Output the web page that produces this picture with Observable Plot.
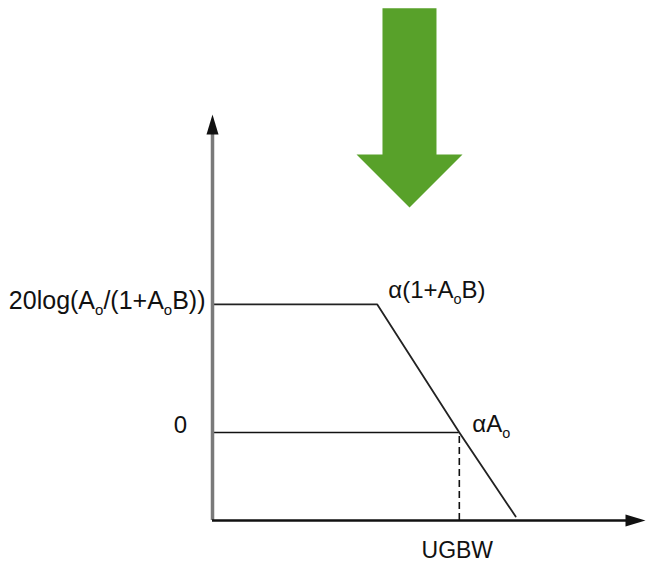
<!DOCTYPE html>
<html>
<head>
<meta charset="utf-8">
<script src="https://cdn.jsdelivr.net/npm/d3@7"></script>
<script src="https://cdn.jsdelivr.net/npm/@observablehq/plot@0.6"></script>
<style>
  html, body { margin: 0; padding: 0; background: #fff; }
  svg text { font-family: "Liberation Sans", Arial, sans-serif; }
</style>
</head>
<body>
<div id="chart"></div>
<script>
// Closed-loop gain vs. frequency (log-frequency in decades, gain in dB)
const responseDecade = [0, 2.31, 3.46, 4.25];
const responseDb = [40, 40, 0, -26.25];

// Unity-gain reference level and crossover frequency
const zeroDb = 0;
const ugbwDecade = 3.46;
const cornerDecade = 2.31;
const closedLoopDb = 40;

// Axis extents
const axisMinX = 0, axisMaxX = 6;
const axisMinDb = -27.5, axisMaxDb = 98.4;

// Labels
const labelClosedLoop = "20log(Aₒ/(1+AₒB))";
const labelZero = "0";
const labelCorner = "α(1+AₒB)";
const labelUgbw = "αAₒ";
const labelFreq = "UGBW";

// Downward pointer drawn above the plot (outline vertices)
const pointerX = [2.383, 3.140, 3.140, 3.505, 2.762, 2.019, 2.383];
const pointerDb = [132.5, 132.5, 86.875, 86.875, 70.31, 86.875, 86.875];

const response = responseDecade.map((x, i) => ({x, y: responseDb[i]}));
const pointer = pointerX.map((x, i) => ({x, y: pointerDb[i]}));

// Narrow filled arrowhead, pointing up before rotation
const arrowHead = {
  draw(ctx) {
    ctx.moveTo(0, -10);
    ctx.lineTo(6, 10);
    ctx.lineTo(-6, 10);
    ctx.closePath();
  }
};

const fontSize = 24;

const chart = Plot.plot({
  width: 646,
  height: 566,
  margin: 0,
  x: {domain: [axisMinX, axisMaxX], range: [212, 640], axis: null},
  y: {domain: [axisMinDb, axisMaxDb], range: [520, 117], axis: null},
  marks: [
    // pointer
    Plot.line(pointer, {x: "x", y: "y", fill: "#58a12a", stroke: "none"}),
    // 0 dB level
    Plot.ruleY([zeroDb], {x1: axisMinX, x2: ugbwDecade, stroke: "#111", strokeWidth: 1.6}),
    // UGBW drop line
    Plot.ruleX([ugbwDecade], {y1: axisMinDb, y2: zeroDb, stroke: "#111", strokeWidth: 1.6, strokeDasharray: "7,4"}),
    // gain curve
    Plot.line(response, {x: "x", y: "y", stroke: "#222", strokeWidth: 1.8}),
    // axes
    Plot.ruleX([axisMinX], {y1: axisMinDb, y2: axisMaxDb - 3, stroke: "#7a7a7a", strokeWidth: 3.5}),
    Plot.ruleY([axisMinDb], {x1: axisMinX, x2: axisMaxX, stroke: "#111", strokeWidth: 2.6}),
    Plot.dot([{x: axisMinX, y: axisMaxDb}], {x: "x", y: "y", symbol: arrowHead, r: 5, fill: "#111", stroke: "none", dy: 7}),
    Plot.dot([{x: axisMaxX, y: axisMinDb}], {x: "x", y: "y", symbol: arrowHead, r: 5, fill: "#111", stroke: "none", rotate: 90, dx: -5}),
    // labels
    Plot.text([{x: axisMinX, y: closedLoopDb}], {x: "x", y: "y", text: () => labelClosedLoop, textAnchor: "end", dx: -7, dy: -3, fontSize: 25, fill: "#111"}),
    Plot.text([{x: axisMinX, y: zeroDb}], {x: "x", y: "y", text: () => labelZero, textAnchor: "middle", dx: -32, dy: -7, fontSize, fill: "#111"}),
    Plot.text([{x: cornerDecade, y: closedLoopDb}], {x: "x", y: "y", text: () => labelCorner, textAnchor: "start", dx: 11, dy: -14, fontSize, fill: "#111"}),
    Plot.text([{x: ugbwDecade, y: zeroDb}], {x: "x", y: "y", text: () => labelUgbw, textAnchor: "start", dx: 13, dy: -8, fontSize, fill: "#111"}),
    Plot.text([{x: ugbwDecade, y: axisMinDb}], {x: "x", y: "y", text: () => labelFreq, textAnchor: "middle", dx: -2, dy: 30, fontSize: 23, fill: "#111"})
  ]
});

// Render the small "o" as a true subscript
d3.select(chart).selectAll("text").each(function () {
  const t = this.textContent;
  if (!t.includes("ₒ")) return;
  const el = d3.select(this);
  el.text(null);
  const parts = t.split("ₒ");
  parts.forEach((p, i) => {
    if (p) el.append("tspan").text(p);
    if (i < parts.length - 1) {
      el.append("tspan").attr("font-size", "60%").attr("baseline-shift", "-40%").text("o");
    }
  });
});

document.getElementById("chart").appendChild(chart);
</script>
</body>
</html>
